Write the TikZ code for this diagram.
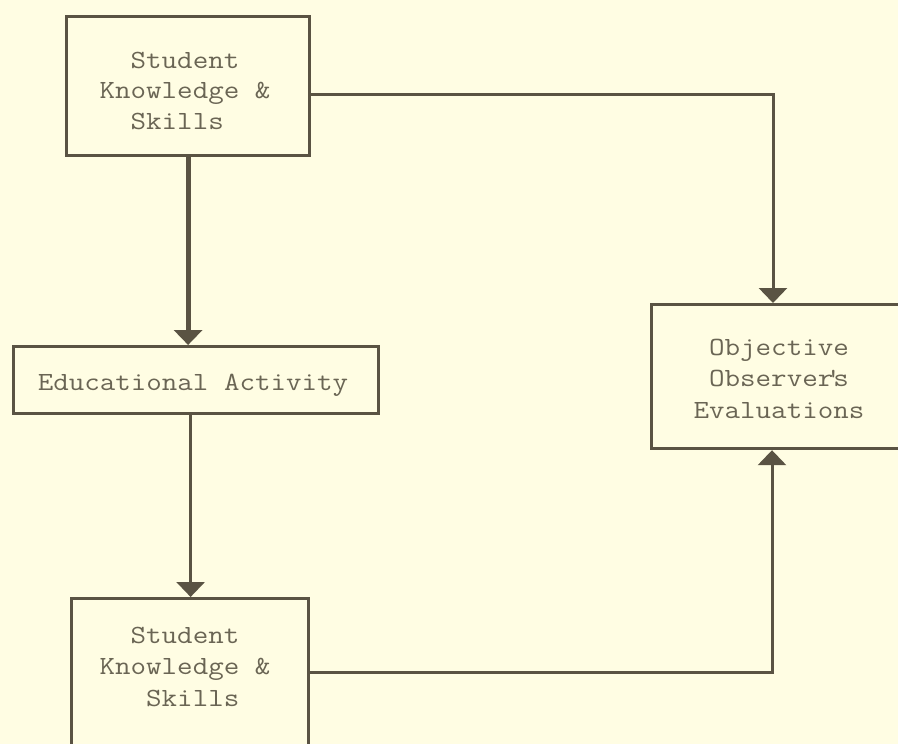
\documentclass[tikz,border=0pt]{standalone}
\usepackage{fontspec}
\setmonofont[FakeStretch=1.15]{Latin Modern Mono}
\usetikzlibrary{arrows.meta,calc}

\definecolor{paper}{HTML}{FFFDE3}
\definecolor{ink}{HTML}{5A5343}
\definecolor{typeink}{HTML}{6A6554}

\tikzset{
  box/.style={draw=ink, line width=3.2pt, rectangle, inner sep=0pt, anchor=north west},
  typed/.style={text=typeink, inner sep=0pt, align=left},
  link/.style={draw=ink, line width=3pt, -{Triangle[width=28pt,length=15pt]}},
  heavylink/.style={link, line width=5pt},
}

\begin{document}
\begin{tikzpicture}[x=1pt,y=-1pt]
  \clip (0,0) rectangle (898,744);
  \fill[paper] (0,0) rectangle (898,744);

  % boxes
  \node[box, minimum width=243pt, minimum height=139pt] (boxA) at (65,15) {};
  \node[box, minimum width=365pt, minimum height=67pt] (boxEdu) at (12,345) {};
  \node[box, minimum width=237pt, minimum height=200pt] (boxC) at (70,597) {};
  \node[box, minimum width=300pt, minimum height=144pt] (boxObj) at (650,303) {};

  % typed labels
  \node[typed, font=\ttfamily\fontsize{26.2}{30.5}\selectfont] (txtA) at (185,90.5)
    {\phantom{xx}Student\\Knowledge \&\\\phantom{xx}Skills};
  \node[typed, anchor=base, font=\ttfamily\fontsize{26.2}{31}\selectfont] (txtEdu) at (193,390)
    {Educational Activity};
  \node[typed, font=\ttfamily\fontsize{26.2}{31.5}\selectfont] (txtC) at (185,666.5)
    {\phantom{xx}Student\\Knowledge \&\\\phantom{xxx}Skills};
  \node[typed, align=center, font=\ttfamily\fontsize{26.2}{31.5}\selectfont] (txtObj) at (779,378.5)
    {Objective\\Observer\makebox[0pt]{'}s\\Evaluations};

  % connector ends on the partly hidden evaluation box
  \coordinate (objTop) at ($(boxObj.north west)+(123,0)$);
  \coordinate (objBot) at ($(boxObj.south west)+(122,0)$);

  % connectors
  \draw[heavylink] (boxA.south) -- (boxA.south |- boxEdu.north);
  \draw[link] ([xshift=-5.5pt]boxEdu.south) -- ([xshift=-5.5pt]boxEdu.south |- boxC.north);
  \draw[link] ([yshift=-8pt]boxA.east) -| (objTop);
  \draw[link] ($(boxC.north east)+(0,75)$) -| (objBot);
\end{tikzpicture}
\end{document}
